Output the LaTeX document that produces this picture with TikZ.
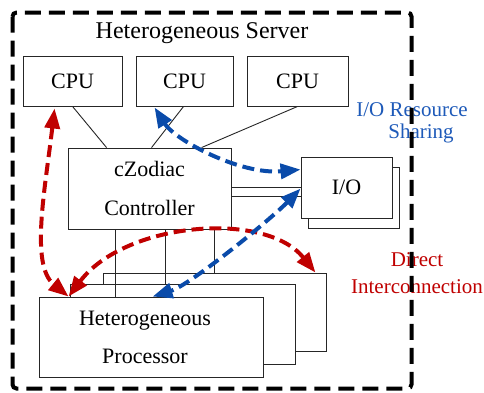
\documentclass[tikz,border=0pt]{standalone}
\usepackage{fontspec}
\setmainfont{Liberation Serif}
\usetikzlibrary{arrows.meta}
\definecolor{linkred}{RGB}{192,0,0}
\definecolor{linkblue}{RGB}{10,75,170}
\definecolor{labelblue}{RGB}{30,90,185}
\begin{document}
\begin{tikzpicture}[x=1pt,y=-1pt,
  box/.style={draw=black!85,line width=0.9pt,fill=white,inner sep=0pt,anchor=center},
  wire/.style={draw=black!85,line width=0.9pt},
  boxtext/.style={font=\fontsize{22}{26}\selectfont},
  linklook/.style={line width=4pt,dash pattern=on 12pt off 6pt,
    {Triangle[length=20pt,width=15pt]}-{Triangle[length=20pt,width=15pt]}},
  redlink/.style={draw=linkred,linklook},
  bluelink/.style={draw=linkblue,linklook},
  note/.style={font=\fontsize{21}{24}\selectfont}]
\useasboundingbox (0,0) rectangle (484,392);
\fill[white] (0,0) rectangle (484,392);

% title
\node[font=\fontsize{24}{28}\selectfont] (title) at (202,33) {Heterogeneous Server};

% CPUs
\node[box,boxtext,minimum width=99pt,minimum height=50pt] (cpu1) at (72.5,81) {CPU};
\node[box,boxtext,minimum width=97pt,minimum height=50pt] (cpu2) at (184.5,81) {CPU};
\node[box,boxtext,minimum width=101pt,minimum height=50pt] (cpu3) at (297.5,81) {CPU};

% controller
\node[box,font=\fontsize{22}{39}\selectfont,align=center,minimum width=163pt,minimum height=81pt] (ctrl) at (149.5,188.5) {cZodiac\\Controller};

% I/O stack
\node[box,minimum width=91pt,minimum height=61pt] (iob) at (353.5,197.5) {};
\node[box,boxtext,minimum width=91pt,minimum height=61pt] (io) at (346.5,187.5) {I/O};

% processor stack
\node[box,minimum width=223pt,minimum height=78pt] (procC) at (214.5,312) {};
\node[box,minimum width=225pt,minimum height=80pt] (procB) at (182.5,324) {};
\node[box,minimum width=224pt,minimum height=80pt] (procA) at (151,337) {};
\node[font=\fontsize{22}{38}\selectfont,align=center] (proctext) at (145,337) {Heterogeneous\\Processor};

% CPU to controller
\draw[wire] ([xshift=50pt]cpu1.south west) -- ([xshift=39pt]ctrl.north west);
\draw[wire] ([xshift=48pt]cpu2.south west) -- ([xshift=84pt]ctrl.north west);
\draw[wire] ([xshift=51pt]cpu3.south west) -- ([xshift=134pt]ctrl.north west);

% controller to I/O
\draw[wire] ([yshift=-40pt]ctrl.north east) -- ([yshift=-31pt]io.north west);
\draw[wire] ([yshift=-49pt]ctrl.north east) -- ([yshift=-40pt]io.north west);

% controller to processors
\draw[wire] ([xshift=48pt]ctrl.south west) -- ([xshift=77pt]procA.north west);
\draw[wire] ([xshift=98pt]ctrl.south west) -- ([xshift=96pt]procB.north west);
\draw[wire] ([xshift=147pt]ctrl.south west) -- ([xshift=112pt]procC.north west);

% direct interconnection
\draw[redlink] ([xshift=32pt,yshift=-2pt]cpu1.south west) .. controls (45,190) and (30,265) .. ([xshift=30pt]procA.north west);
\draw[redlink] ([xshift=30pt]procA.north west) .. controls (125,222) and (265,210) .. ([xshift=-11pt]procC.north east);

% I/O resource sharing
\draw[bluelink] ([xshift=19pt,yshift=-1pt]cpu2.south west) .. controls (175,140) and (240,175) .. ([yshift=-13pt]io.north west);
\draw[bluelink] ([yshift=-32pt]io.north west) .. controls (270,220) and (190,285) .. ([xshift=114pt]procA.north west);

% labels
\node[note,text=labelblue] (share1) at (412,110) {I/O Resource};
\node[note,text=labelblue] (share2) at (421,133) {Sharing};
\node[note,text=linkred] (direct1) at (417,260) {Direct};
\node[note,text=linkred] (direct2) at (417,287) {Interconnection};

% server boundary
\draw[line width=4pt,dash pattern=on 16pt off 8pt,rounded corners=4pt] (12.5,12.5) rectangle (411.5,388.5);
\end{tikzpicture}
\end{document}
